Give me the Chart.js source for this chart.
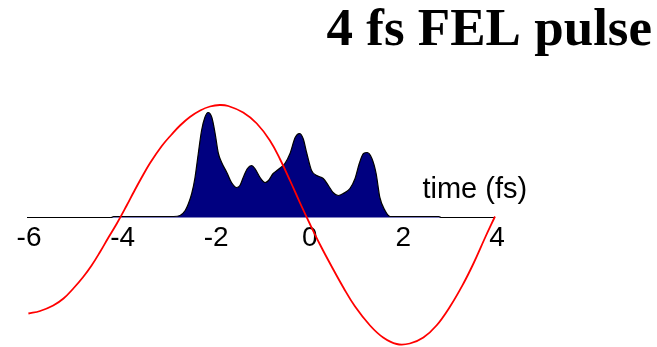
<!DOCTYPE html>
<html>
<head>
<meta charset="utf-8">
<title>4 fs FEL pulse</title>
<script src="https://cdn.jsdelivr.net/npm/chart.js@4/dist/chart.umd.min.js"></script>
<style>
  html, body { margin: 0; padding: 0; background: #ffffff; }
  #wrap { width: 657px; height: 347px; }
</style>
</head>
<body>
<div id="wrap"><canvas id="c" width="657" height="347"></canvas></div>
<script>
// Time axis (fs)
const tickValues = [-6, -4, -2, 0, 2, 4];

// FEL pulse power profile (arb. units) vs time (fs)
const pulseT = [-6, -4.2, -4.15, -3.0, -2.87, -2.73, -2.62, -2.55, -2.48, -2.41, -2.34, -2.27, -2.20,
  -2.13, -2.05, -1.98, -1.91, -1.84, -1.73, -1.63, -1.52, -1.45, -1.38, -1.29, -1.20, -1.13, -1.02,
  -0.91, -0.84, -0.74, -0.63, -0.49, -0.38, -0.27, -0.18, -0.10, -0.02, 0.08, 0.19, 0.33, 0.44,
  0.54, 0.65, 0.76, 0.90, 1.01, 1.10, 1.19, 1.27, 1.37, 1.46, 1.54, 1.65, 1.76, 1.86, 2.8, 2.85, 4];
const pulseP = [0, 0, 0.01, 0.01, 0.01, 0.02, 0.07, 0.14, 0.24, 0.40, 0.64, 0.87, 1.00,
  1.05, 1.00, 0.84, 0.64, 0.55, 0.45, 0.35, 0.30, 0.32, 0.40, 0.49, 0.52, 0.49, 0.40,
  0.35, 0.37, 0.44, 0.48, 0.54, 0.64, 0.80, 0.84, 0.79, 0.64, 0.47, 0.42, 0.39, 0.32,
  0.25, 0.22, 0.24, 0.29, 0.39, 0.54, 0.64, 0.65, 0.59, 0.44, 0.20, 0.07, 0.01, 0.01, 0.01, 0, 0];

// Laser field (arb. units) vs time (fs)
const fieldT = [-5.97, -5.72, -5.44, -5.22, -5.01, -4.80, -4.62, -4.44, -4.26, -4.08, -3.87,
  -3.73, -3.55, -3.37, -3.12, -2.91, -2.73, -2.52, -2.30, -2.09, -1.88, -1.70, -1.38, -1.09, -0.81,
  -0.59, -0.38, -0.17, 0.05, 0.26, 0.51, 0.76, 1.01, 1.33, 1.61, 1.90, 2.18, 2.47, 2.75, 3.04,
  3.32, 3.54, 3.79, 4.00];
const fieldE = [-0.96, -0.935, -0.88, -0.81, -0.71, -0.595, -0.48, -0.345, -0.20, -0.06, 0.12,
  0.245, 0.40, 0.545, 0.715, 0.83, 0.92, 1.005, 1.07, 1.11, 1.125, 1.115, 1.05, 0.94, 0.77,
  0.58, 0.37, 0.15, -0.07, -0.27, -0.49, -0.70, -0.89, -1.08, -1.20, -1.265, -1.26, -1.20, -1.08, -0.89,
  -0.665, -0.46, -0.20, 0.01];

const pulseData = pulseT.map((t, i) => ({ x: t, y: pulseP[i] }));
const fieldData = fieldT.map((t, i) => ({ x: t, y: fieldE[i] }));

// Axis caption drawn next to the time axis
const axisCaption = {
  id: 'axisCaption',
  afterDatasetsDraw(chart) {
    const { ctx, scales } = chart;
    ctx.save();
    ctx.font = '29px "Liberation Sans", Arial, sans-serif';
    ctx.fillStyle = '#000000';
    ctx.textAlign = 'left';
    ctx.textBaseline = 'alphabetic';
    ctx.fillText('time (fs)', scales.x.getPixelForValue(2.45), scales.y.getPixelForValue(0.2));
    ctx.restore();
  }
};

new Chart(document.getElementById('c'), {
  type: 'line',
  data: {
    datasets: [
      {
        label: 'field',
        data: fieldData,
        borderColor: '#ff0000',
        borderWidth: 1.8,
        pointRadius: 0,
        fill: false,
        tension: 0.4,
        clip: false
      },
      {
        label: 'pulse',
        data: pulseData,
        borderColor: '#000000',
        borderWidth: 1.2,
        backgroundColor: '#000080',
        pointRadius: 0,
        fill: 'origin',
        cubicInterpolationMode: 'monotone'
      }
    ]
  },
  options: {
    responsive: false,
    devicePixelRatio: 1,
    animation: false,
    layout: { padding: { left: 27, right: 5, top: 0, bottom: 0 } },
    plugins: {
      legend: { display: false },
      tooltip: { enabled: false },
      title: {
        display: true,
        text: '4 fs FEL pulse',
        align: 'end',
        color: '#000000',
        font: { family: '"Liberation Serif", "Times New Roman", serif', size: 53, weight: 'bold', lineHeight: 1.0 },
        padding: { top: 5, bottom: 9 }
      }
    },
    scales: {
      x: {
        type: 'linear',
        position: { y: 0 },
        min: -6,
        max: 7.355,
        grid: { display: false, drawTicks: false },
        border: { display: false },
        afterBuildTicks(scale) { scale.ticks = tickValues.map(v => ({ value: v })); },
        afterFit(scale) { scale.height = 0; },
        ticks: {
          padding: 4,
          labelOffset: 2,
          color: '#000000',
          maxRotation: 0,
          autoSkip: false,
          font: { family: '"Liberation Sans", Arial, sans-serif', size: 28 }
        }
      },
      y: {
        type: 'linear',
        display: false,
        min: -1.295,
        max: 1.505
      }
    }
  },
  plugins: [axisCaption]
});
</script>
</body>
</html>
